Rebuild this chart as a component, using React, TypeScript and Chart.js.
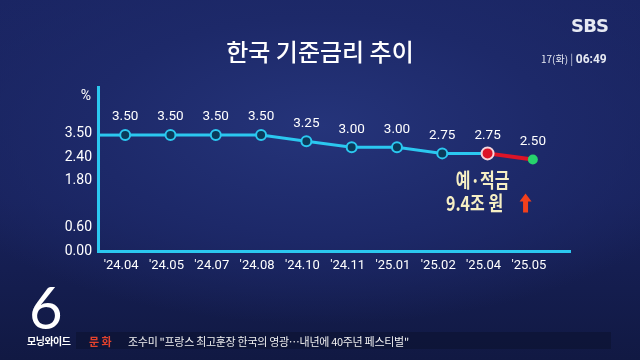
import React, { useEffect, useRef } from 'react';
import { Chart, registerables, LinearScale } from 'chart.js';

Chart.register(...registerables);

// ---- data ----
const TITLE = '한국 기준금리 추이';
const X_LABELS = ["'24.04", "'24.05", "'24.07", "'24.08", "'24.10", "'24.11", "'25.01", "'25.02", "'25.04", "'25.05"];
const RATES = [3.5, 3.5, 3.5, 3.5, 3.25, 3.0, 3.0, 2.75, 2.75, 2.5];
const Y_TICKS = [0, 0.6, 1.8, 2.4, 3.5];
const Y_STEP = 0.6; // regular step below the axis break
const Y_BREAK = 2.4; // axis is compressed above this value
const Y_SLOTS = 7; // visible axis height in steps
const HIGHLIGHT_FROM = 8; // the latest cut segment starts here
const NOTE_LINES = ['예·적금', '9.4조 원'];
const UNIT = '%';

// ---- styles ----
const CYAN = '#2bc8f0';
const RED = '#dc1427';
const GREEN = '#27d46c';
const POINT_FILL = '#0b3a5a';
const NOTE_COLOR = '#f6efc4';

function toSlot(v: number): number {
  const top = Y_TICKS[Y_TICKS.length - 1];
  return v <= Y_BREAK ? v / Y_STEP : Y_BREAK / Y_STEP + (v - Y_BREAK) / (top - Y_BREAK);
}

class BrokenScale extends (LinearScale as any) {
  static id = 'broken';
  static defaults = (LinearScale as any).defaults;
  getPixelForValue(v: number) {
    return (this as any).getPixelForDecimal(toSlot(v) / Y_SLOTS);
  }
}
Chart.register(BrokenScale as any);

const overlayPlugin = {
  id: 'overlay',
  beforeDraw(chart: any) {
    const { ctx } = chart;
    ctx.save();
    ctx.fillStyle = '#ffffff';
    ctx.font = '500 24px "Noto Sans CJK KR"';
    ctx.textAlign = 'center';
    ctx.textBaseline = 'middle';
    ctx.fillText(TITLE, 320, 52);
    ctx.restore();
  },
  beforeDatasetsDraw(chart: any) {
    const { ctx, chartArea } = chart;
    const p0 = chart.getDatasetMeta(0).data[0];
    ctx.save();
    ctx.strokeStyle = CYAN;
    ctx.lineWidth = 3;
    ctx.beginPath();
    ctx.moveTo(chartArea.left, p0.y);
    ctx.lineTo(p0.x, p0.y);
    ctx.stroke();
    // unit label
    ctx.fillStyle = '#ffffff';
    ctx.font = '14px Roboto';
    ctx.textAlign = 'center';
    ctx.textBaseline = 'middle';
    ctx.fillText(UNIT, chartArea.left - 12, chartArea.top + 9);
    ctx.restore();
  },
  afterDatasetsDraw(chart: any) {
    const { ctx } = chart;
    const pts = chart.getDatasetMeta(0).data;
    ctx.save();
    ctx.fillStyle = '#ffffff';
    ctx.font = '13.5px Roboto';
    ctx.textAlign = 'center';
    ctx.textBaseline = 'middle';
    pts.forEach((p: any, i: number) => {
      ctx.fillText(RATES[i].toFixed(2), p.x, p.y - 18);
    });
    // note under highlighted point
    const hp = pts[HIGHLIGHT_FROM];
    const cx = hp.x - 5;
    ctx.fillStyle = NOTE_COLOR;
    ctx.font = 'bold 20px "Noto Sans CJK KR"';
    NOTE_LINES.forEach((line, i) => {
      ctx.save();
      ctx.translate(i === 0 ? cx : cx - 8, hp.y + 27 + i * 23);
      ctx.scale(0.8, 1);
      ctx.fillText(line, 0, 0);
      ctx.restore();
    });
    // up arrow
    const ax = hp.x + 38;
    const ay = hp.y + 50;
    ctx.fillStyle = '#f2401c';
    ctx.beginPath();
    ctx.moveTo(ax, ay - 10);
    ctx.lineTo(ax + 6, ay - 2);
    ctx.lineTo(ax + 2.5, ay - 2);
    ctx.lineTo(ax + 2.5, ay + 9);
    ctx.lineTo(ax - 2.5, ay + 9);
    ctx.lineTo(ax - 2.5, ay - 2);
    ctx.lineTo(ax - 6, ay - 2);
    ctx.closePath();
    ctx.fill();
    ctx.restore();
  },
};

function ChartCanvas() {
  const ref = useRef<HTMLCanvasElement | null>(null);
  useEffect(() => {
    if (!ref.current) return;
    const last = RATES.length - 1;
    const chart = new Chart(ref.current, {
      type: 'line',
      data: {
        datasets: [
          {
            data: RATES.map((y, x) => ({ x, y })),
            xAxisID: 'x',
            yAxisID: 'y',
            borderColor: CYAN,
            borderWidth: 3,
            tension: 0,
            segment: {
              borderColor: (c: any) => (c.p0DataIndex >= HIGHLIGHT_FROM ? RED : undefined),
              borderWidth: (c: any) => (c.p0DataIndex >= HIGHLIGHT_FROM ? 4 : undefined),
            },
            pointRadius: RATES.map((_, i) => (i === HIGHLIGHT_FROM ? 6 : 5)),
            pointBorderWidth: RATES.map((_, i) => (i === last ? 0 : 2)),
            pointBackgroundColor: RATES.map((_, i) =>
              i === HIGHLIGHT_FROM ? RED : i === last ? GREEN : POINT_FILL
            ),
            pointBorderColor: RATES.map((_, i) =>
              i === HIGHLIGHT_FROM ? '#f4d6dc' : i === last ? GREEN : CYAN
            ),
          } as any,
        ],
      },
      options: {
        animation: false,
        responsive: false,
        events: [],
        layout: { padding: { top: 87, left: 0, right: 70, bottom: 79 } },
        plugins: { legend: { display: false }, tooltip: { enabled: false }, title: { display: false } },
        scales: {
          x: {
            type: 'linear',
            position: 'bottom',
            min: -0.6,
            max: 9.82,
            afterBuildTicks: (s: any) => {
              s.ticks = X_LABELS.map((_, i) => ({ value: i }));
            },
            afterFit: (s: any) => {
              s.height = 30;
            },
            grid: { display: false, drawTicks: false },
            border: { display: true, color: CYAN, width: 3 },
            ticks: {
              color: '#ffffff',
              font: { family: 'Roboto', size: 13 },
              padding: 7,
              autoSkip: false,
              maxRotation: 0,
              labelOffset: -4,
              callback: (v: any) => X_LABELS[Number(v)] ?? '',
            },
          },
          yT: {
            type: 'broken' as any,
            position: 'left',
            min: 0,
            max: 3.5,
            afterBuildTicks: (s: any) => {
              s.ticks = Y_TICKS.map((value) => ({ value }));
            },
            afterFit: (s: any) => {
              s.width = 98;
            },
            grid: { display: false, drawTicks: false },
            border: { display: true, color: CYAN, width: 3 },
            ticks: {
              color: '#ffffff',
              font: { family: 'Roboto', size: 14 },
              padding: 6,
              callback: (v: any) => Number(v).toFixed(2),
            },
          },
          y: {
            type: 'linear',
            display: false,
            min: -1.25,
            max: 5.47,
          },
        },
      } as any,
      plugins: [overlayPlugin],
    });
    return () => chart.destroy();
  }, []);
  return <canvas ref={ref} width={640} height={360} style={{ position: 'absolute', left: 0, top: 0 }} />;
}

export default function App() {
  const kr = '"Noto Sans CJK KR", sans-serif';
  return (
    <div
      style={{
        position: 'fixed',
        left: 0,
        top: 0,
        width: 640,
        height: 360,
        overflow: 'hidden',
        background:
          'radial-gradient(ellipse 65% 55% at 50% 35%, #25347a 0%, #1d2969 55%, rgba(20,29,80,0) 100%), linear-gradient(180deg, #1a2563 0%, #18225c 55%, #111943 100%)',
      }}
    >
      <ChartCanvas />
      <div style={{ position: 'absolute', left: 571, top: 15, color: '#e6e9f2', font: 'bold 18px "DejaVu Sans"', letterSpacing: -0.8 }}>SBS</div>
      <div style={{ position: 'absolute', left: 541, top: 44, color: '#e6e9f2', whiteSpace: 'nowrap', fontFamily: kr }}>
        <span style={{ fontSize: 10 }}>17(화) </span>
        <span style={{ fontSize: 11, opacity: 0.8 }}>| </span>
        <span style={{ fontSize: 12, fontWeight: 700, fontFamily: 'Roboto' }}>06:49</span>
      </div>
      <div style={{ position: 'absolute', left: 29, top: 277, color: '#ffffff', font: '400 58px Lato', lineHeight: '60px' }}>6</div>
      <div style={{ position: 'absolute', left: 27, top: 333, color: '#ffffff', font: `bold 10px ${kr}`, letterSpacing: -0.5 }}>모닝와이드</div>
      <div
        style={{
          position: 'absolute',
          left: 76,
          top: 332,
          width: 535,
          height: 17,
          background: 'rgba(12,18,48,0.6)',
        }}
      />
      <div style={{ position: 'absolute', left: 89, top: 333, color: '#e4432d', font: `bold 11px ${kr}`, whiteSpace: 'nowrap' }}>문 화</div>
      <div style={{ position: 'absolute', left: 128, top: 333, color: '#f0f0f0', font: `11px ${kr}`, whiteSpace: 'nowrap', letterSpacing: -0.3 }}>
        조수미 "프랑스 최고훈장 한국의 영광…내년에 40주년 페스티벌"
      </div>
    </div>
  );
}
